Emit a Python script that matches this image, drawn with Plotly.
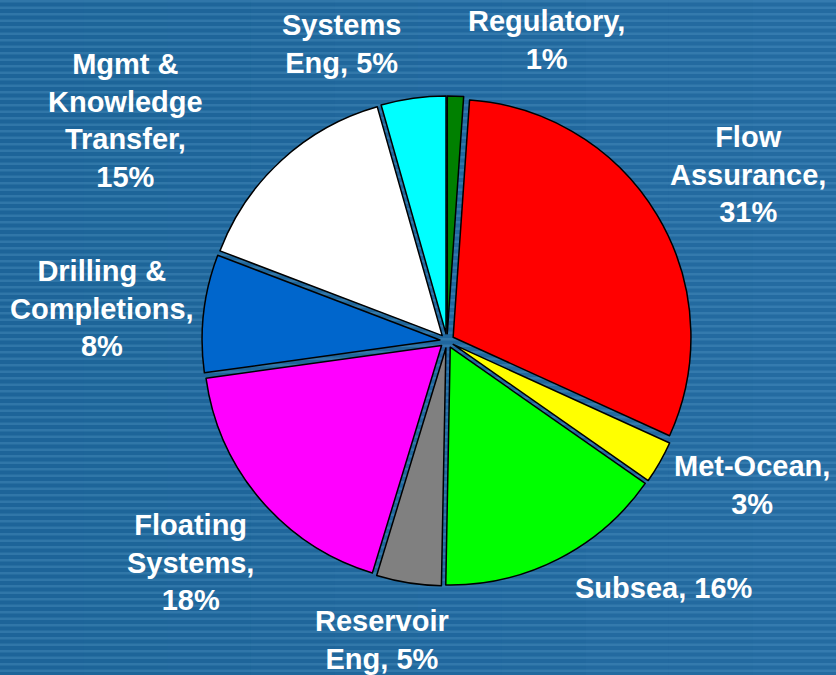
import plotly.graph_objects as go

# ---- data ----
categories = ["Regulatory", "Flow Assurance", "Met-Ocean", "Subsea", "Reservoir Eng",
              "Floating Systems", "Drilling & Completions", "Mgmt & Knowledge Transfer", "Systems Eng"]
values = [1.1, 30.7, 2.9, 15.6, 4.4, 18.1, 8.0, 14.8, 4.4]
pct_labels = ["1%", "31%", "3%", "16%", "5%", "18%", "8%", "15%", "5%"]
label_text = ["Regulatory,<br>", "Flow<br>Assurance,<br>", "Met-Ocean,<br>", "Subsea, ",
              "Reservoir<br>Eng, ", "Floating<br>Systems,<br>", "Drilling &<br>Completions,<br>",
              "Mgmt &<br>Knowledge<br>Transfer,<br>", "Systems<br>Eng, "]
colors = ["#008000", "#ff0000", "#ffff00", "#00ff00", "#808080",
          "#ff00ff", "#0066cc", "#ffffff", "#00ffff"]

# label anchor positions (pixels from top-left)
label_pos = [(546, 40), (748, 174), (752, 485), (664, 588), (382, 640),
             (190, 562), (102, 308), (125, 121), (341, 44)]

W, H = 836, 675

fig = go.Figure()
fig.add_trace(go.Pie(
    labels=categories,
    values=values,
    sort=False,
    direction="clockwise",
    rotation=0,
    marker=dict(colors=colors, line=dict(color="black", width=1.5)),
    pull=[0.03] * len(values),
    textinfo="none",
    hoverinfo="label+percent",
    showlegend=False,
    domain=dict(x=[0.2417, 0.8277], y=[0.132, 0.858]),
))

annotations = []
for txt, pct, (px, py) in zip(label_text, pct_labels, label_pos):
    annotations.append(dict(
        text="<b>" + txt + pct + "</b>",
        x=px / W, y=1 - py / H, xref="paper", yref="paper",
        xanchor="center", yanchor="middle", showarrow=False,
        align="center",
        font=dict(family="Liberation Sans, Arial, sans-serif", size=29, color="white"),
    ))

# striped background
shapes = []
period = 6.5
n = int(H / period) + 1
for i in range(n):
    y0 = i * period
    shapes.append(dict(
        type="rect", xref="paper", yref="paper", layer="below",
        x0=0, x1=1, y0=1 - (y0 + 2.5) / H, y1=1 - y0 / H,
        fillcolor="rgba(120,180,225,0.22)", line=dict(width=0),
    ))
# subtle left-to-right brightening
for j in range(10):
    shapes.append(dict(
        type="rect", xref="paper", yref="paper", layer="below",
        x0=j / 10, x1=(j + 1) / 10, y0=0, y1=1,
        fillcolor="rgba(90,160,220,%.3f)" % (0.014 * j), line=dict(width=0),
    ))

fig.update_layout(
    width=W, height=H,
    margin=dict(l=0, r=0, t=0, b=0),
    paper_bgcolor="#1d6499",
    plot_bgcolor="#1d6499",
    annotations=annotations,
    shapes=shapes,
)

fig.write_html("out.html",
               config={"displayModeBar": False},
               post_script="document.body.style.margin='0';document.body.style.overflow='hidden';")
